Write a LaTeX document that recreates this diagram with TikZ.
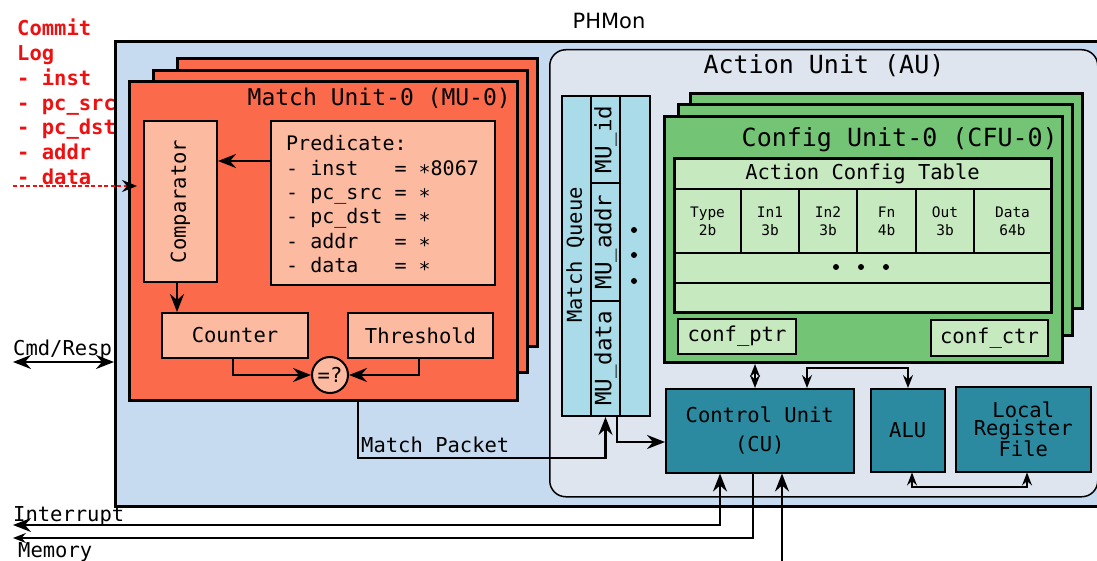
\documentclass[tikz,border=0pt]{standalone}
\usepackage{fontspec}
\usetikzlibrary{arrows.meta}
\newfontfamily\mono{DejaVu Sans Mono}[WordSpace={1,0,0}]
\newfontfamily\labelsans{DejaVu Sans}
\definecolor{phmonbg}{HTML}{C6DBEF}
\definecolor{aubg}{HTML}{DEE5EF}
\definecolor{mured}{HTML}{FB6A4A}
\definecolor{mulight}{HTML}{FCBBA1}
\definecolor{mqcyan}{HTML}{A9DCE8}
\definecolor{cfugreen}{HTML}{74C476}
\definecolor{actgreen}{HTML}{C7E9C0}
\definecolor{cuteal}{HTML}{2C8AA0}
\definecolor{logred}{HTML}{EE1111}
\tikzset{
  span/.style n args={4}{at={(#1,#2)}, anchor=north west, inner sep=0pt,
    minimum width={(#3)-(#1)}, minimum height={(#4)-(#2)}},
  txt/.style={font=\mono\fontsize{20.5}{24}\selectfont, inner sep=0pt},
  cell/.style={draw, line width=2pt, txt},
  heavy/.style={draw, line width=3pt},
  arr/.style={line width=2.2pt, ->},
  dblarr/.style={line width=2.2pt, <->},
  smalltips/.style={>={Stealth[length=13pt,width=10pt,inset=4.5pt]}},
}
\begin{document}
\begin{tikzpicture}[x=1pt, y=-1pt, >={Stealth[length=18pt,width=14pt,inset=6pt]}]
\useasboundingbox (0,0) rectangle (1097,561);

% commit log entries (partly hidden behind the monitor box)
\foreach \t [count=\i] in {Commit,Log,- inst,- pc\_src,- pc\_dst,- addr,- data}{
  \node[txt, font=\mono\bfseries\fontsize{20.5}{24}\selectfont, text=logred, anchor=base west]
    (log\i) at (17,{36+(\i-1)*24.7}) {\t};
}

% monitor
\node[font=\labelsans\fontsize{21}{24}\selectfont, inner sep=0pt, anchor=base] (phmonlabel) at (609,29) {PHMon};
\node[span={114}{40}{1110}{505}, draw, line width=3pt, fill=phmonbg] (phmon) {};

% match unit stack
\node[span={176}{57}{536}{345}, heavy, fill=mured] (muback) {};
\node[span={152}{69}{526}{371}, heavy, fill=mured] (mumid) {};
\node[span={128}{80}{516}{399}, heavy, fill=mured] (mufront) {};
\node[txt, font=\mono\fontsize{23}{26}\selectfont, anchor=base east] (mutitle) at (511,106) {Match Unit-0 (MU-0)};
\node[span={143}{120}{216}{281}, cell, fill=mulight] (comparator) {};
\node[txt, rotate=90] (comparatortext) at (comparator.center) {Comparator};
\node[span={270}{120}{494}{284}, cell, fill=mulight] (predicate) {};
\foreach \t [count=\i] in {Predicate:,- inst\ \ \ = ∗8067,- pc\_src = ∗,- pc\_dst = ∗,- addr\ \ \ = ∗,- data\ \ \ = ∗}{
  \node[txt, font=\mono\fontsize{20}{24}\selectfont, anchor=base west] (pred\i) at (286,{150.7+(\i-1)*24.4}) {\t};
}
\node[span={161}{312}{307}{357}, cell, fill=mulight] (counter) {Counter};
\node[span={347}{312}{492}{357}, cell, fill=mulight] (threshold) {Threshold};
\node[circle, draw, line width=2pt, fill=mulight, minimum size=36pt, inner sep=0pt, txt] (cmp) at (330,375) {=?};

\coordinate (predout) at (0,161);
\coordinate (cmpdown) at (177,0);
\coordinate (ctrx) at (233,0);
\coordinate (thrx) at (419,0);
\draw[arr] (predicate.west |- predout) -- (comparator.east |- predout);
\draw[arr] (comparator.south -| cmpdown) -- (counter.north -| cmpdown);
\draw[arr] (counter.south -| ctrx) |- (cmp.west);
\draw[arr] (threshold.south -| thrx) |- (cmp.east);

% commit log feed
\coordinate (logstart) at (13,186);
\draw[line width=2pt, logred, dash pattern=on 4pt off 2.5pt, -{Stealth[length=15pt,width=12pt,inset=5pt,black]}, shorten >=6pt]
  (logstart) -- (comparator.west |- logstart);

% command / response port
\coordinate (cmdport) at (13,362);
\draw[dblarr] (cmdport) -- (cmdport -| phmon.west);
\node[txt, anchor=base west] (cmdlabel) at (13,355) {Cmd/Resp};

% action unit
\node[span={549}{49}{1097}{496}, draw, line width=1.5pt, rounded corners=16pt, fill=aubg] (au) {};
\node[txt, font=\mono\fontsize{25}{28}\selectfont, anchor=base] (autitle) at (824,74) {Action Unit (AU)};

% match queue
\node[span={561}{95}{649}{415}, cell, fill=mqcyan] (mq) {};
\node[span={590}{95}{619}{182}, cell, fill=mqcyan] (muid) {};
\node[span={590}{182}{619}{300}, cell, fill=mqcyan] (muaddr) {};
\node[span={590}{300}{619}{415}, cell, fill=mqcyan] (mudata) {};
\node[txt, rotate=90] (mqtext) at (575.5,255) {Match Queue};
\node[txt, font=\mono\fontsize{22.5}{24}\selectfont, rotate=90] (muidtext) at (muid.center) {MU\_id};
\node[txt, font=\mono\fontsize{22.5}{24}\selectfont, rotate=90] (muaddrtext) at (muaddr.center) {MU\_addr};
\node[txt, font=\mono\fontsize{22.5}{24}\selectfont, rotate=90] (mudatatext) at (mudata.center) {MU\_data};
\foreach \y in {230,255,281} { \fill (634,\y) circle (3pt); }

% match packet path
\coordinate (mpcorner) at (358,458);
\draw[arr] (mpcorner |- mufront.south) -- (mpcorner) -| (mudata.south);
\node[txt, anchor=base west] (mplabel) at (361,452) {Match Packet};

% config unit stack
\node[span={689}{92}{1081}{307}, heavy, fill=cfugreen] (cfuback) {};
\node[span={677}{103}{1071}{334}, heavy, fill=cfugreen] (cfumid) {};
\node[span={663}{115}{1061}{361}, heavy, fill=cfugreen] (cfufront) {};
\node[txt, font=\mono\fontsize{25}{28}\selectfont, anchor=base east] (cfutitle) at (1058,147) {Config Unit-0 (CFU-0)};

% action config table
\node[span={673}{157}{1050}{188}, cell, fill=actgreen] (acthead) {Action Config Table};
\foreach \a/\b/\l/\s [count=\i] in {673/740/Type/2b, 740/798/In1/3b, 798/856/In2/3b, 856/915/Fn/4b, 915/973/Out/3b, 973/1050/Data/64b}{
  \node[span={\a}{188}{\b}{252}, cell, fill=actgreen, align=center, font=\mono\fontsize{14.5}{18}\selectfont] (fld\i) {\l\\\s};
}
\node[span={673}{252}{1050}{282}, cell, fill=actgreen] (dotsrow) {};
\node[span={673}{282}{1050}{311}, cell, fill=actgreen] (emptyrow) {};
\node[span={673}{157}{1050}{311}, heavy] (act) {};
\foreach \x in {836,861,886} { \fill (\x,267) circle (3pt); }
\node[span={677}{318}{795}{353}, cell, fill=actgreen] (confptr) {conf\_ptr};
\node[span={930}{319}{1047}{355}, cell, fill=actgreen] (confctr) {conf\_ctr};

% control unit, ALU, register file
\node[span={665}{388}{853}{472}, draw, line width=1.5pt, fill=cuteal, txt, align=center, font=\mono\fontsize{20.5}{29}\selectfont] (cu) {Control Unit\\(CU)};
\node[span={870}{388}{944}{471}, draw, line width=1.5pt, fill=cuteal, txt] (alu) {ALU};
\node[span={955}{386}{1090}{471}, draw, line width=1.5pt, fill=cuteal, txt, align=center, font=\mono\fontsize{20.5}{18.5}\selectfont] (lrf) {Local\\Register\\File};

% queue to control unit
\coordinate (cuin) at (617,442);
\draw[arr] (cuin |- mq.south) -- (cuin) -- (cuin -| cu.west);

% config pointer link
\coordinate (ptrlink) at (755,0);
\draw[dblarr, smalltips] (cfufront.south -| ptrlink) -- (cu.north -| ptrlink);

% control unit to ALU
\coordinate (cualu) at (807,368);
\coordinate (alutop) at (908,368);
\draw[dblarr, smalltips] (cu.north -| cualu) -- (cualu) -- (alutop) -- (alu.north -| alutop);

% ALU to register file
\coordinate (alulrf) at (912,487);
\coordinate (lrfin) at (1027,487);
\draw[line width=1.5pt, <->, smalltips] (alu.south -| alulrf) -- (alulrf) -- (lrfin) -- (lrf.south -| lrfin);

% external ports of the control unit
\coordinate (intr) at (720,525);
\coordinate (intl) at (13,525);
\draw[dblarr] (intl) -- (intr) -- (cu.south -| intr);
\node[txt, anchor=base west] (intlabel) at (13,521) {Interrupt};
\coordinate (memr) at (753,538);
\coordinate (meml) at (13,538);
\draw[line width=1.5pt, ->, smalltips] (cu.south -| memr) -- (memr) -- (meml);
\node[txt, anchor=base west] (memlabel) at (18,557) {Memory};
\coordinate (cubottom) at (782,561);
\draw[arr] (cubottom) -- (cubottom |- cu.south);
\end{tikzpicture}
\end{document}
